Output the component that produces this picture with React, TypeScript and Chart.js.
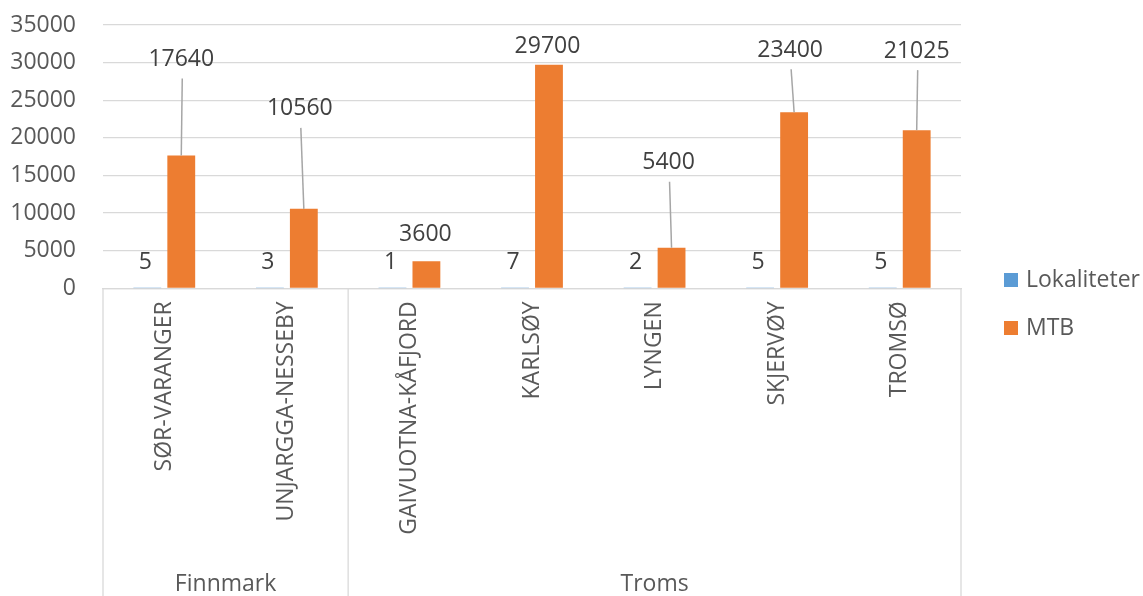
import React, { useEffect, useRef } from 'react';
import { Chart, registerables } from 'chart.js';

Chart.register(...registerables);

// ---- data ----
const categories = ['SØR-VARANGER', 'UNJARGGA-NESSEBY', 'GAIVUOTNA-KÅFJORD', 'KARLSØY', 'LYNGEN', 'SKJERVØY', 'TROMSØ'];
const groups = ['Finnmark', 'Troms'];
const groupSizes = [2, 5];
const lokaliteter = [5, 3, 1, 7, 2, 5, 5];
const mtb = [17640, 10560, 3600, 29700, 5400, 23400, 21025];
const yMin = 0;
const yMax = 35000;
const yStep = 5000;

// ---- label placement (pixel offsets from the bar top) ----
const mtbLabelOffsets: number[][] = [[0, -96], [-4, -100], [-1, -27], [-1.5, -18], [-3, -85], [-4, -62], [0, -79]];

const FONT = '"Open Sans", sans-serif';
const FS = 23;
const GRID = '#d9d9d9';
const TEXT = '#595959';
const LABEL = '#404040';
const BLUE = '#5B9BD5';
const ORANGE = '#ED7D31';

const overlay = {
  id: 'overlay',
  afterDatasetsDraw(chart: any) {
    const ctx = chart.ctx;
    ctx.save();
    ctx.font = `${FS}px ${FONT}`;
    ctx.fillStyle = LABEL;
    ctx.textAlign = 'center';
    ctx.textBaseline = 'middle';
    const m0 = chart.getDatasetMeta(0);
    m0.data.forEach((bar: any, i: number) => {
      ctx.fillText(String(chart.data.datasets[0].data[i]), bar.x - 2, bar.base - 25);
    });
    const m1 = chart.getDatasetMeta(1);
    m1.data.forEach((bar: any, i: number) => {
      const [dx, dy] = mtbLabelOffsets[i];
      const lx = bar.x + dx;
      const ly = bar.y + dy;
      if (dy < -40) {
        ctx.strokeStyle = '#a6a6a6';
        ctx.lineWidth = 1.5;
        ctx.beginPath();
        ctx.moveTo(lx + 1, ly + 19);
        ctx.lineTo(bar.x, bar.y);
        ctx.stroke();
      }
      ctx.fillStyle = LABEL;
      ctx.fillText(String(chart.data.datasets[1].data[i]), lx, ly);
    });
    ctx.restore();
  },
  afterDraw(chart: any) {
    const ctx = chart.ctx;
    const area = chart.chartArea;
    const xs = chart.scales.x;
    ctx.save();
    // group separators
    const bounds: number[] = [area.left];
    let idx = 0;
    groupSizes.forEach((n, g) => {
      idx += n;
      if (g < groupSizes.length - 1) {
        bounds.push((xs.getPixelForValue(idx - 1) + xs.getPixelForValue(idx)) / 2);
      }
    });
    bounds.push(area.right);
    ctx.strokeStyle = GRID;
    ctx.lineWidth = 1.3;
    bounds.forEach((bx) => {
      ctx.beginPath();
      ctx.moveTo(bx, area.bottom);
      ctx.lineTo(bx, chart.height);
      ctx.stroke();
    });
    // group labels
    ctx.font = `${FS}px ${FONT}`;
    ctx.fillStyle = TEXT;
    ctx.textAlign = 'center';
    ctx.textBaseline = 'middle';
    groups.forEach((gname, g) => {
      ctx.fillText(gname, (bounds[g] + bounds[g + 1]) / 2, chart.height - 12);
    });
    // legend
    const legX = area.right + 43;
    const legY0 = 280;
    chart.data.datasets.forEach((ds: any, i: number) => {
      const cy = legY0 + i * 48;
      ctx.fillStyle = ds.backgroundColor;
      ctx.fillRect(legX, cy - 7, 14, 14);
      ctx.fillStyle = TEXT;
      ctx.textAlign = 'left';
      ctx.fillText(ds.label, legX + 22, cy);
    });
    ctx.restore();
  },
};

export default function App() {
  const ref = useRef<HTMLCanvasElement>(null);
  useEffect(() => {
    if (!ref.current) return;
    const chart = new Chart(ref.current, {
      type: 'bar',
      data: {
        labels: categories,
        datasets: [
          { label: 'Lokaliteter', data: lokaliteter, backgroundColor: BLUE, categoryPercentage: 0.554, barPercentage: 0.82 },
          { label: 'MTB', data: mtb, backgroundColor: ORANGE, categoryPercentage: 0.554, barPercentage: 0.82 },
        ],
      },
      options: {
        animation: false,
        responsive: true,
        maintainAspectRatio: false,
        layout: { padding: { top: 25, right: 182, bottom: 0, left: 0 } },
        plugins: { legend: { display: false }, tooltip: { enabled: false } },
        scales: {
          x: {
            grid: { display: false },
            border: { display: true, color: GRID, width: 1.3 },
            ticks: {
              autoSkip: false,
              minRotation: 90,
              maxRotation: 90,
              padding: 5,
              color: TEXT,
              font: { family: FONT, size: FS },
            },
            afterFit: (s: any) => { s.height = 307.7; },
          },
          y: {
            min: yMin,
            max: yMax,
            ticks: {
              stepSize: yStep,
              padding: 27,
              color: TEXT,
              font: { family: FONT, size: FS },
              callback: (v: any) => String(v),
            },
            grid: { color: GRID, lineWidth: 1.3, drawTicks: false },
            border: { display: false },
            afterFit: (s: any) => { s.width = 103; s.paddingTop = 14; s.paddingBottom = 14; },
          },
        },
      },
      plugins: [overlay],
    });
    return () => chart.destroy();
  }, []);
  return (
    <div style={{ position: 'absolute', left: 0, top: 0, width: 1143, height: 596 }}>
      <canvas ref={ref} />
    </div>
  );
}
